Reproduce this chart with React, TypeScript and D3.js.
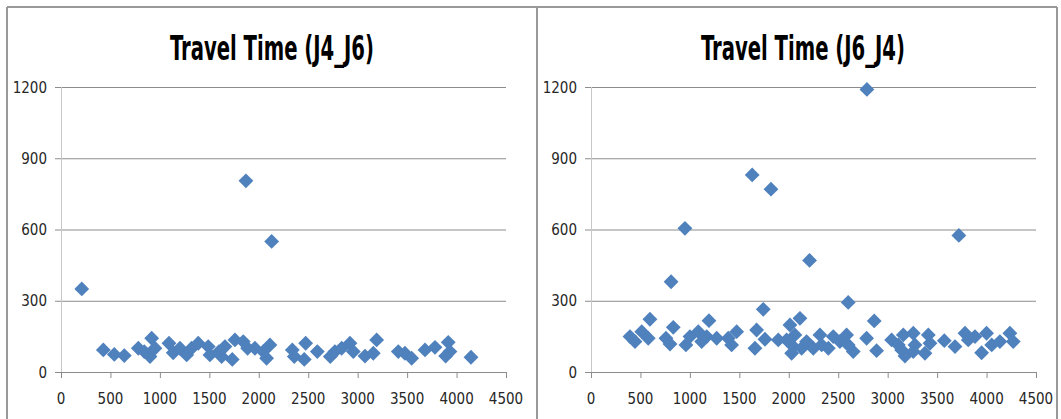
import React, { useRef, useEffect } from 'react';
import * as d3 from 'd3';

// Travel Time (J4_J6): [distance, seconds]
const j4j6X = [210, 1870, 2130, 428, 539, 640, 782, 842, 917, 900, 950, 1092, 1135, 1203, 1271, 1321, 1388, 1489, 1506, 1597, 1624, 1658, 1732, 1759, 1843, 1887, 1961, 2045, 2113, 2079, 2339, 2359, 2474, 2460, 2592, 2723, 2770, 2838, 2922, 2956, 3074, 3158, 3192, 3411, 3478, 3546, 3681, 3782, 3916, 3890, 3933, 4146];
const j4j6Y = [350, 805, 550, 93, 74, 69, 100, 86, 142, 65, 100, 121, 81, 100, 72, 100, 121, 107, 72, 86, 65, 107, 53, 135, 128, 100, 100, 86, 114, 58, 93, 65, 121, 53, 86, 65, 86, 100, 121, 86, 67, 79, 135, 86, 79, 58, 93, 104, 125, 67, 86, 62];

// Travel Time (J6_J4)
const j6j4X = [2790, 1630, 1820, 950, 3720, 2210, 810, 1742, 2601, 596, 1193, 2113, 2864, 832, 2012, 394, 445, 513, 579, 758, 799, 960, 1001, 1085, 1119, 1170, 1271, 1388, 1422, 1473, 1675, 1658, 1759, 1894, 1978, 2045, 2029, 2062, 2130, 2180, 2248, 2315, 2332, 2400, 2450, 2517, 2585, 2601, 2652, 2787, 2888, 3040, 3108, 3158, 3175, 3141, 3259, 3276, 3259, 3377, 3411, 3428, 3573, 3681, 3782, 3815, 3883, 3950, 4000, 4052, 4135, 4236, 4270];
const j6j4Y = [1190, 830, 770, 605, 575, 470, 380, 264, 293, 222, 216, 226, 215, 188, 198, 149, 128, 170, 142, 142, 118, 114, 149, 170, 128, 149, 142, 142, 114, 170, 177, 100, 138, 135, 135, 107, 79, 156, 100, 128, 100, 156, 114, 100, 149, 128, 156, 114, 86, 142, 90, 135, 114, 156, 67, 93, 163, 114, 86, 79, 156, 121, 132, 107, 163, 135, 149, 81, 163, 114, 128, 163, 128];

const xTicks = [0, 500, 1000, 1500, 2000, 2500, 3000, 3500, 4000, 4500];
const yTicks = [0, 300, 600, 900, 1200];

const charts = [
    { title: 'Travel Time (J4_J6)', xs: j4j6X, ys: j4j6Y, left: 61, right: 506, center: 272 },
    { title: 'Travel Time (J6_J4)', xs: j6j4X, ys: j6j4Y, left: 591, right: 1036, center: 803 },
];

const W = 1061;
const H = 419;
const labelFont = '"Liberation Sans Narrow", "DejaVu Sans Condensed", "Arial Narrow", sans-serif';

const App = () => {
    const svgRef = useRef(null);

    useEffect(() => {
        const svg = d3.select(svgRef.current);
        svg.selectAll('*').remove();

        svg.append('rect').attr('width', W).attr('height', H).attr('fill', '#fff');

        // outer frame and divider
        const frame = svg.append('g').attr('stroke', '#999').attr('stroke-width', 2);
        frame.append('line').attr('x1', 7).attr('x2', 1057).attr('y1', 7).attr('y2', 7);
        frame.append('line').attr('x1', 7).attr('x2', 7).attr('y1', 7).attr('y2', H);
        frame.append('line').attr('x1', 537).attr('x2', 537).attr('y1', 7).attr('y2', H);
        frame.append('line').attr('x1', 1057).attr('x2', 1057).attr('y1', 7).attr('y2', H);

        const top = 87;
        const bottom = 372;

        charts.forEach(c => {
            const g = svg.append('g');
            const x = d3.scaleLinear().domain([0, 4500]).range([c.left, c.right]);
            const y = d3.scaleLinear().domain([0, 1200]).range([bottom, top]);

            g.append('text')
                .attr('x', c.center)
                .attr('y', 60)
                .attr('text-anchor', 'middle')
                .attr('font-family', labelFont)
                .attr('font-weight', 'bold')
                .attr('font-size', 33)
                .attr('textLength', 204)
                .attr('lengthAdjust', 'spacingAndGlyphs')
                .attr('fill', '#000')
                .text(c.title);

            // gridlines
            g.selectAll('.grid')
                .data(yTicks.filter(t => t > 0))
                .enter()
                .append('line')
                .attr('x1', c.left - 6)
                .attr('x2', c.right)
                .attr('y1', d => y(d) + 0.5)
                .attr('y2', d => y(d) + 0.5)
                .attr('stroke', '#8c8c8c')
                .attr('stroke-width', 1);

            // y axis
            g.append('line')
                .attr('x1', c.left + 0.5).attr('x2', c.left + 0.5)
                .attr('y1', top).attr('y2', bottom)
                .attr('stroke', '#c8c8c8');
            g.append('line')
                .attr('x1', c.left - 6).attr('x2', c.left)
                .attr('y1', bottom + 0.5).attr('y2', bottom + 0.5)
                .attr('stroke', '#8c8c8c');

            // x axis
            g.append('line')
                .attr('x1', c.left).attr('x2', c.right)
                .attr('y1', bottom + 0.5).attr('y2', bottom + 0.5)
                .attr('stroke', '#8c8c8c');
            g.selectAll('.xtick')
                .data(xTicks)
                .enter()
                .append('line')
                .attr('x1', d => x(d) + 0.5)
                .attr('x2', d => x(d) + 0.5)
                .attr('y1', bottom)
                .attr('y2', bottom + 6)
                .attr('stroke', '#8c8c8c');

            g.selectAll('.xlab')
                .data(xTicks)
                .enter()
                .append('text')
                .attr('x', d => x(d))
                .attr('y', 404)
                .attr('text-anchor', 'middle')
                .attr('font-family', labelFont)
                .attr('font-size', 15)
                .attr('fill', '#262626')
                .text(d => d);

            g.selectAll('.ylab')
                .data(yTicks)
                .enter()
                .append('text')
                .attr('x', c.left - 14)
                .attr('y', d => y(d) + 5.5)
                .attr('text-anchor', 'end')
                .attr('font-family', labelFont)
                .attr('font-size', 15)
                .attr('fill', '#262626')
                .text(d => d);

            const pts = c.xs.map((v, i) => ({ x: v, y: c.ys[i] }));
            const diamond = d3.symbol().type(d3.symbolSquare).size(110);
            g.selectAll('.pt')
                .data(pts)
                .enter()
                .append('path')
                .attr('d', diamond)
                .attr('transform', d => `translate(${x(d.x)},${y(d.y)}) rotate(45)`)
                .attr('fill', '#4f81bd');
        });
    }, []);

    return (
        <svg ref={svgRef} width={W} height={H} style={{ position: 'absolute', left: 0, top: 0 }}></svg>
    );
};

export default App;
